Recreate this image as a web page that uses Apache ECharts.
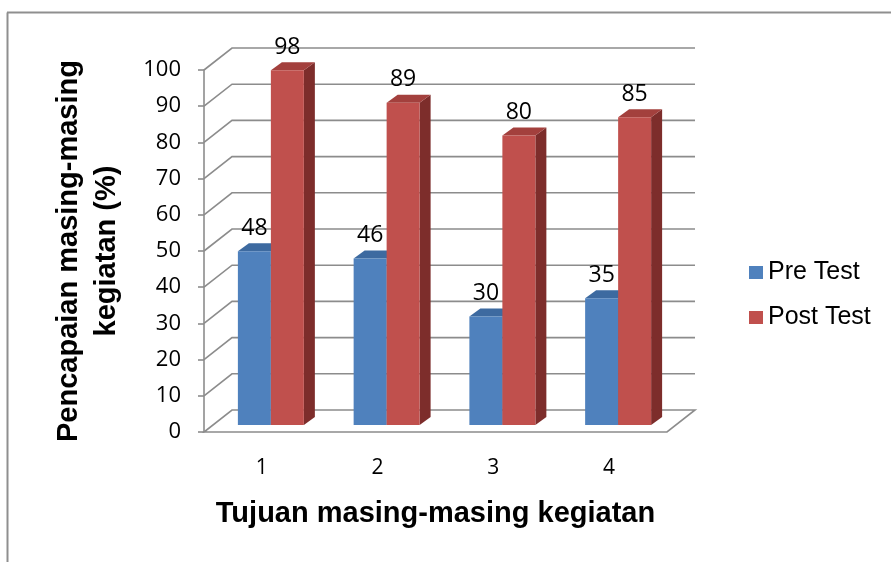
<!DOCTYPE html>
<html>
<head>
<meta charset="utf-8">
<script src="https://cdn.jsdelivr.net/npm/echarts@6/dist/echarts.min.js"></script>
<style>
  html, body { margin: 0; padding: 0; background: #fff; }
  #chart { width: 891px; height: 562px; }
</style>
</head>
<body>
<div id="chart"></div>
<script>
// Chart data
const categories = ['1', '2', '3', '4'];
const preTest = [48, 46, 30, 35];
const postTest = [98, 89, 80, 85];
const yTicks = [0, 10, 20, 30, 40, 50, 60, 70, 80, 90, 100];

// 3D look: depth of the floor/back wall, where the bars sit in depth, and bar thickness
const WALL_DX = 28, WALL_DY = -22;
const FRONT_DX = 9, FRONT_DY = -7;
const SIDE_DX = 11, SIDE_DY = -8;
const GRID_COLOR = '#8c8c8c';
const NUM_FONT = '"Open Sans", sans-serif';
const TITLE_FONT = '"Liberation Sans", Arial, sans-serif';

const chart = echarts.init(document.getElementById('chart'), null, { renderer: 'canvas' });

// Floor outline + back-wall gridlines with their diagonal return to the front axis
function wallRenderer(params, api) {
  const cs = params.coordSys;
  const v = api.value(0);
  const p = api.coord([0, v]);
  const xl = cs.x, xr = cs.x + cs.width, y = p[1];
  const style = { stroke: GRID_COLOR, lineWidth: 1.6, fill: null };
  if (v === 0) {
    return {
      type: 'polygon',
      shape: { points: [[xl, y], [xr, y], [xr + WALL_DX, y + WALL_DY], [xl + WALL_DX, y + WALL_DY]] },
      style: style, silent: true
    };
  }
  return {
    type: 'polyline',
    shape: { points: [[xl, y], [xl + WALL_DX, y + WALL_DY], [xr + WALL_DX, y + WALL_DY]] },
    style: style, silent: true
  };
}

function barRenderer(slot, front, top, side) {
  return function (params, api) {
    const idx = api.value(0);
    const v = api.value(1);
    const base = api.coord([idx, 0]);
    const tip = api.coord([idx, v]);
    const band = api.size([1, 0])[0];
    const w = band * 0.285;
    const cx = base[0] + FRONT_DX;
    const x0 = slot === 0 ? cx - w : cx;
    const x1 = x0 + w;
    const yb = base[1] + FRONT_DY;
    const yt = tip[1] + FRONT_DY;
    return {
      type: 'group',
      children: [
        { type: 'polygon', shape: { points: [[x1, yt], [x1 + SIDE_DX, yt + SIDE_DY], [x1 + SIDE_DX, yb + SIDE_DY], [x1, yb]] }, style: { fill: side } },
        { type: 'polygon', shape: { points: [[x0, yt], [x1, yt], [x1 + SIDE_DX, yt + SIDE_DY], [x0 + SIDE_DX, yt + SIDE_DY]] }, style: { fill: top } },
        { type: 'rect', shape: { x: x0, y: yt, width: w, height: yb - yt }, style: { fill: front } },
        { type: 'text', x: (x0 + x1) / 2, y: yt - 23,
          style: { text: String(v), fontFamily: NUM_FONT, fontSize: 23, fill: '#000', align: 'center', verticalAlign: 'middle' } }
      ]
    };
  };
}

const option = {
  backgroundColor: '#ffffff',
  animation: false,
  grid: { left: 204, top: 70, width: 463, height: 362, containLabel: false },
  legend: {
    orient: 'vertical',
    left: 744,
    top: 255,
    icon: 'rect',
    itemWidth: 14,
    itemHeight: 13,
    itemGap: 20,
    data: ['Pre Test', 'Post Test'],
    textStyle: { fontFamily: TITLE_FONT, fontSize: 25, color: '#000', lineHeight: 25 }
  },
  xAxis: {
    type: 'category',
    data: categories,
    boundaryGap: true,
    axisLine: { show: false },
    axisTick: { show: false },
    axisLabel: { fontFamily: NUM_FONT, fontSize: 21, color: '#000', margin: 26 },
    name: 'Tujuan masing-masing kegiatan',
    nameLocation: 'middle',
    nameGap: 67,
    nameTextStyle: { fontFamily: TITLE_FONT, fontWeight: 'bold', fontSize: 29, color: '#000' }
  },
  yAxis: {
    type: 'value',
    min: 0,
    max: 100,
    interval: 10,
    splitLine: { show: false },
    axisLine: { show: true, lineStyle: { color: GRID_COLOR, width: 1.6 } },
    axisTick: { show: true, length: 6, lineStyle: { color: GRID_COLOR, width: 1.6 } },
    axisLabel: { fontFamily: NUM_FONT, fontSize: 22, color: '#000', margin: 23 },
    name: 'Pencapaian masing-masing\nkegiatan (%)',
    nameLocation: 'middle',
    nameRotate: 90,
    nameGap: 78,
    nameTextStyle: { fontFamily: TITLE_FONT, fontWeight: 'bold', fontSize: 29, color: '#000', lineHeight: 38 }
  },
  graphic: [
    { type: 'line', shape: { x1: 7.5, y1: 12.5, x2: 7.5, y2: 562 }, style: { stroke: '#8f8f8f', lineWidth: 2 }, silent: true },
    { type: 'line', shape: { x1: 7, y1: 12.5, x2: 891, y2: 12.5 }, style: { stroke: '#8f8f8f', lineWidth: 2 }, silent: true }
  ],
  series: [
    {
      name: 'wall',
      type: 'custom',
      silent: true,
      z: 1,
      renderItem: wallRenderer,
      data: yTicks.map(v => [v]),
      encode: { y: 0 }
    },
    {
      name: 'Pre Test',
      type: 'custom',
      z: 2,
      itemStyle: { color: '#4f81bd' },
      renderItem: barRenderer(0, '#4f81bd', '#3d6aa0', '#33598a'),
      data: preTest.map((v, i) => [i, v]),
      encode: { x: 0, y: 1 }
    },
    {
      name: 'Post Test',
      type: 'custom',
      z: 3,
      itemStyle: { color: '#c0504d' },
      renderItem: barRenderer(1, '#c0504d', '#a3403d', '#7d2d2b'),
      data: postTest.map((v, i) => [i, v]),
      encode: { x: 0, y: 1 }
    }
  ]
};

chart.setOption(option);
</script>
</body>
</html>
